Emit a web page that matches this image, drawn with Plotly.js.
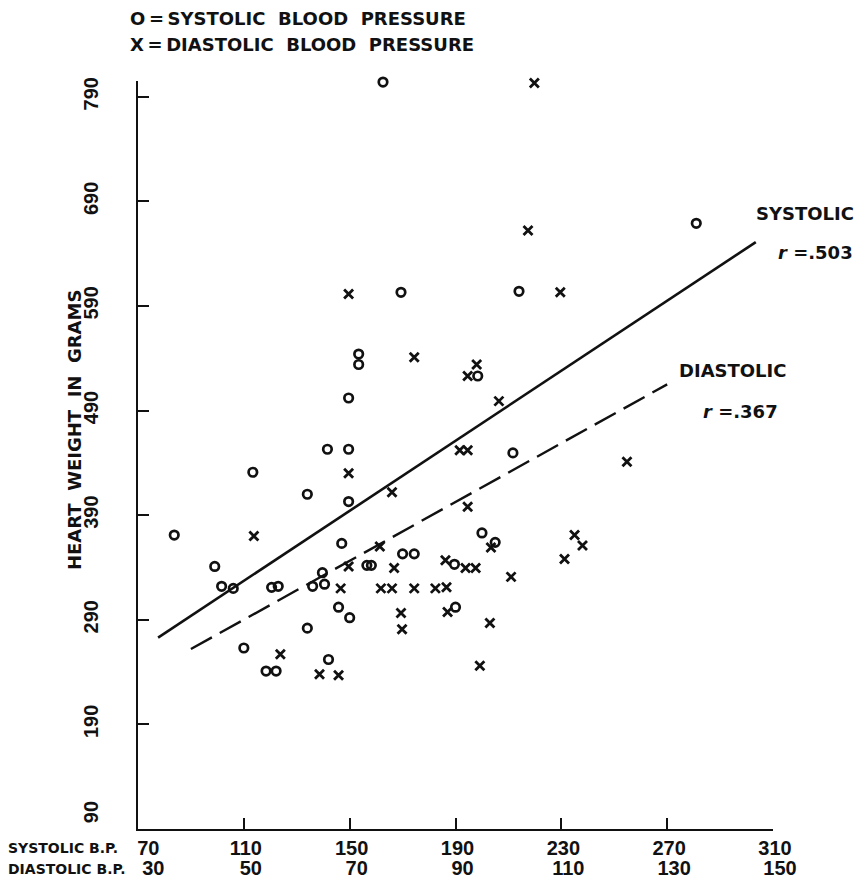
<!DOCTYPE html>
<html>
<head>
<meta charset="utf-8">
<script src="https://cdn.plot.ly/plotly-3.0.1.min.js"></script>
<style>html,body{margin:0;padding:0;background:#fff;}#chart{width:859px;height:882px;}</style>
</head>
<body>
<div id="chart"></div>
<script>
// Systolic blood pressure (mm Hg) vs heart weight (g)
const systolicBP = [83.7, 99, 101.6, 106, 113.4, 134, 141.6, 149.6, 153.4, 153.4, 149.6, 149.6, 147,
  120.5, 123, 110, 118.4, 122.2, 134, 142, 136, 140.5, 139.7, 145.8, 150, 156.5, 158.2,
  170, 174.4, 162.6, 169.4, 214, 281, 198.4, 211.7, 200, 205, 189.6, 190];
const systolicWeight = [371, 341, 322, 320, 431, 410, 453, 453, 544, 534, 502, 403, 363,
  321, 322, 263, 241, 241, 282, 252, 322, 324, 335, 302, 292, 342, 342,
  353, 353, 804, 603, 604, 669, 523, 449.5, 373, 364, 343, 302];

// Diastolic blood pressure (mm Hg) vs heart weight (g)
const diastolicBP = [51.9, 69.8, 78, 82.2, 75.7, 69.8, 78.4, 68.3, 75.9, 78, 82.2, 86.2, 88.3,
  56.9, 64.3, 67.9, 79.7, 79.9, 69.8, 104.9, 103.7, 109.8, 92.3, 94, 98.2, 90.8, 92.3,
  122.4, 92.3, 112.5, 114, 110.6, 96.7, 88.1, 91.9, 93.8, 100.5, 88.5, 96.5, 94.6];
const diastolicWeight = [370, 430, 412, 541, 360, 341, 339.5, 320, 320, 320, 320, 320, 321,
  257, 238, 237, 296.5, 281, 601.5, 803, 662, 603, 523, 534, 499, 452, 452,
  441, 398, 371, 361, 348, 359, 347, 339.5, 339.5, 331, 297.5, 287, 246];

// Regression lines
const systolicLineX = [77.6, 303.5];
const systolicLineY = [273, 651];
const diastolicLineX = [40, 130];
const diastolicLineY = [262, 515];

// Axis ticks and labels
const systolicTicks = [70, 110, 150, 190, 230, 270, 310];
const systolicLabels = ['70', '110', '150', '190', '230', '270', '310'];
const diastolicTicks = [30, 50, 70, 90, 110, 130, 150];
const diastolicLabels = ['30', '50', '70', '90', '110', '130', '150'];
const weightTicks = [90, 190, 290, 390, 490, 590, 690, 790];
const weightLabels = ['90', '190', '290', '390', '490', '590', '690', '790'];

const W = 859, H = 882;
const M = {l: 138, r: 86, t: 81, b: 28};
const plotW = W - M.l - M.r, plotH = H - M.t - M.b;
const axisBottomPx = 829;
const yDomainStart = (H - M.b - axisBottomPx) / plotH;
const px = p => (p - M.l) / plotW;
const py = p => (H - M.b - p) / plotH;

const FONT = "Liberation Sans, Arial, sans-serif";
const WIDE = "DejaVu Sans, Verdana, sans-serif";
const ink = "#111";
const NB = '\u00a0';
// the first label of each row sits clear of the axis corner, as in the original
const pad = (arr, n) => arr.map((t, i) => i === 0 ? NB.repeat(n) + t : t);

const traces = [
  {x: systolicBP, y: systolicWeight, xaxis: 'x', yaxis: 'y', type: 'scatter', mode: 'markers',
   marker: {symbol: 'circle-open', size: 8.5, color: ink, line: {width: 2.7, color: ink}},
   cliponaxis: false, hoverinfo: 'x+y'},
  {x: diastolicBP, y: diastolicWeight, xaxis: 'x2', yaxis: 'y', type: 'scatter', mode: 'markers',
   marker: {symbol: 'x-thin-open', size: 9, color: ink, line: {width: 2.8, color: ink}},
   cliponaxis: false, hoverinfo: 'x+y'},
  {x: systolicLineX, y: systolicLineY, xaxis: 'x', yaxis: 'y', type: 'scatter', mode: 'lines',
   line: {color: ink, width: 2.6}},
  {x: diastolicLineX, y: diastolicLineY, xaxis: 'x2', yaxis: 'y', type: 'scatter', mode: 'lines',
   line: {color: ink, width: 2.4, dash: '24px,9px'}}
];

const ann = (text, x, y, size, opts) => Object.assign({
  text: text, xref: 'paper', yref: 'paper', x: px(x), y: py(y), showarrow: false,
  xanchor: 'left', yanchor: 'middle', font: {family: WIDE, size: size, color: ink, weight: 'bold'}
}, opts || {});

const TH = '\u2009';
const layout = {
  width: W, height: H,
  margin: M,
  paper_bgcolor: '#fff', plot_bgcolor: '#fff',
  showlegend: false,
  font: {family: FONT, color: ink},
  xaxis: {
    range: [70, 310], tickvals: systolicTicks, ticktext: pad(systolicLabels, 3),
    showgrid: false, zeroline: false, showline: true, linecolor: ink, linewidth: 2.2,
    ticks: 'inside', ticklen: 11, tickwidth: 2, tickcolor: ink,
    tickfont: {family: FONT, size: 20, color: ink, weight: 'bold'},
    ticklabelstandoff: 0, ticklabelshift: 2, anchor: 'y', fixedrange: true
  },
  xaxis2: {
    range: [30, 150], tickvals: diastolicTicks, ticktext: pad(diastolicLabels, 3),
    overlaying: 'x', anchor: 'free', position: 0, side: 'bottom',
    showgrid: false, zeroline: false, showline: false, ticks: '',
    tickfont: {family: FONT, size: 20, color: ink, weight: 'bold'},
    ticklabelstandoff: 0, ticklabelshift: 7, fixedrange: true
  },
  yaxis: {
    range: [90, 805], domain: [yDomainStart, 1], tickvals: weightTicks, ticktext: pad(weightLabels, 5),
    showgrid: false, zeroline: false, showline: true, linecolor: ink, linewidth: 2.2,
    ticks: 'inside', ticklen: 11, tickwidth: 2, tickcolor: ink, tickangle: -90,
    tickfont: {family: FONT, size: 20, color: ink, weight: 'bold'},
    ticklabelstandoff: 30, fixedrange: true
  },
  annotations: [
    ann('O' + TH + '=' + TH + 'SYSTOLIC' + NB + NB + 'BLOOD' + NB + NB + 'PRESSURE', 128, 18, 18),
    ann('X' + TH + '=' + TH + 'DIASTOLIC' + NB + NB + 'BLOOD' + NB + NB + 'PRESSURE', 128, 44, 18),
    ann('HEART' + NB + NB + 'WEIGHT' + NB + NB + 'IN' + NB + NB + 'GRAMS', 74, 430, 18,
      {xanchor: 'center', textangle: -90}),
    ann('SYSTOLIC', 754, 213, 18),
    ann('<i>r</i>' + NB + '=.503', 776, 253, 18),
    ann('DIASTOLIC', 677, 370, 18),
    ann('<i>r</i>' + NB + '=.367', 701, 411, 18),
    ann('SYSTOLIC B.P.', 6, 848, 14),
    ann('DIASTOLIC B.P.', 6, 869, 14)
  ]
};

Plotly.newPlot('chart', traces, layout, {staticPlot: true, displayModeBar: false});
</script>
</body>
</html>
